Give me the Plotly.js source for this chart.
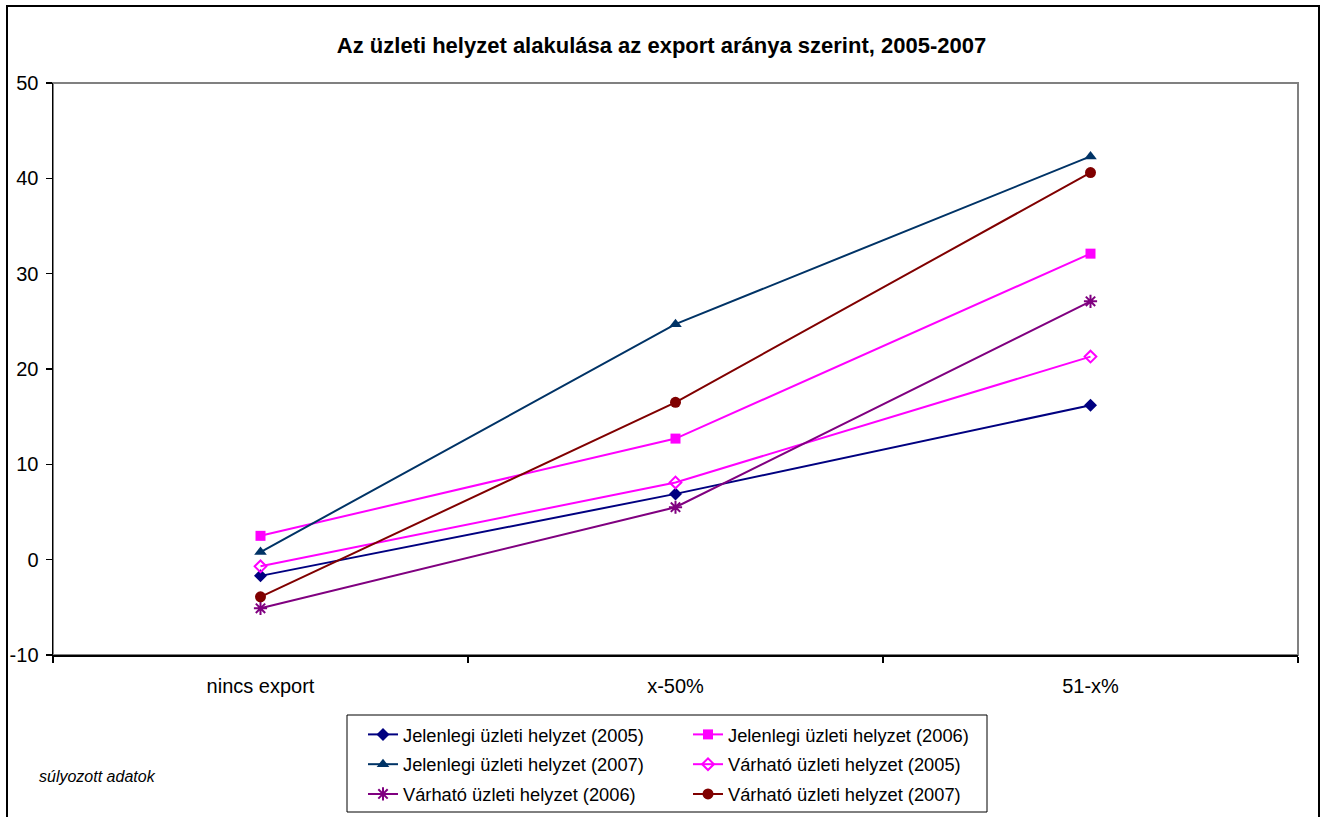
<!DOCTYPE html>
<html>
<head>
<meta charset="utf-8">
<script src="https://cdn.plot.ly/plotly-3.0.1.min.js"></script>
<style>html,body{margin:0;padding:0;background:#fff;}#chart{width:1323px;height:817px;}</style>
</head>
<body>
<div id="chart"></div>
<script>
const categories = ["nincs export", "x-50%", "51-x%"];
const seriesNames = [
  "Jelenlegi üzleti helyzet (2005)",
  "Jelenlegi üzleti helyzet (2006)",
  "Jelenlegi üzleti helyzet (2007)",
  "Várható üzleti helyzet (2005)",
  "Várható üzleti helyzet (2006)",
  "Várható üzleti helyzet (2007)"
];
const jelenlegi2005 = [-1.7, 6.9, 16.2];
const jelenlegi2006 = [2.5, 12.7, 32.1];
const jelenlegi2007 = [0.8, 24.7, 42.3];
const varhato2005 = [-0.7, 8.1, 21.3];
const varhato2006 = [-5.1, 5.5, 27.1];
const varhato2007 = [-3.9, 16.5, 40.6];
const yTicks = [-10, 0, 10, 20, 30, 40, 50];

const values = [jelenlegi2005, jelenlegi2006, jelenlegi2007, varhato2005, varhato2006, varhato2007];
const colors = ["#000080", "#FF00FF", "#003366", "#FF00FF", "#800080", "#800000"];
const symbols = ["diamond", "square", "triangle-up", "diamond-open", "asterisk-open", "circle"];
const sizes = [10, 10, 11, 9, 11, 11];
const legendIds = ["legend", "legend2", "legend", "legend2", "legend", "legend2"];

const traces = values.map((v, i) => ({
  type: "scatter",
  mode: "lines+markers",
  x: categories,
  y: v,
  name: seriesNames[i],
  legend: legendIds[i],
  legendgroup: "g" + i,
  line: {color: colors[i], width: 2},
  marker: {symbol: symbols[i], size: sizes[i], color: colors[i],
           line: {color: colors[i], width: symbols[i].indexOf("open") >= 0 ? 2 : 0}},
  cliponaxis: false
}));

const fam = "Liberation Sans, Arial, sans-serif";
const font = {family: fam, size: 20, color: "#000"};
const legFont = {family: fam, size: 18.3, color: "#000"};
const H = 817;

const layout = {
  width: 1323, height: 817,
  margin: {l: 53, r: 25, t: 83, b: 162, autoexpand: false},
  paper_bgcolor: "#fff", plot_bgcolor: "#fff",
  font: font,
  showlegend: true,
  title: {text: "<b>Az üzleti helyzet alakulása az export aránya szerint, 2005-2007</b>",
          font: {family: fam, size: 22, color: "#000"},
          xref: "container", x: 0.5, xanchor: "center", yref: "container", y: 1 - 45/H, yanchor: "middle"},
  xaxis: {type: "category", range: [-0.5, 2.5], showgrid: false, zeroline: false, automargin: false,
          showline: true, linecolor: "#000", linewidth: 1.5,
          ticks: "outside", tickson: "boundaries", ticklen: 6, tickcolor: "#000", tickwidth: 1.5,
          tickfont: font, ticklabelstandoff: 12},
  yaxis: {range: [-10, 50], tickvals: yTicks, ticktext: yTicks.map(String), showgrid: false, zeroline: false,
          automargin: false,
          showline: true, linecolor: "#000", linewidth: 1.5,
          ticks: "outside", ticklen: 6, tickcolor: "#000", tickwidth: 1.5, tickfont: font, ticklabelstandoff: 3},
  legend: {xref: "container", x: 363 / 1323, xanchor: "left", yref: "container", y: 1 - 716 / H, yanchor: "top",
           bgcolor: "rgba(0,0,0,0)", borderwidth: 0, font: legFont,
           tracegroupgap: 3, itemwidth: 30, orientation: "v"},
  legend2: {xref: "container", x: 688 / 1323, xanchor: "left", yref: "container", y: 1 - 716 / H, yanchor: "top",
           bgcolor: "rgba(0,0,0,0)", borderwidth: 0, font: legFont,
           tracegroupgap: 3, itemwidth: 30, orientation: "v"},
  shapes: [
    {type: "rect", xref: "paper", yref: "paper", x0: 0, x1: 1, y0: 0, y1: 1,
     line: {color: "#808080", width: 2}, layer: "below"},
    {type: "rect", xref: "paper", yref: "paper", x0: (7 - 53) / 1245, x1: (1319 - 53) / 1245,
     y0: (655 - 840) / 572, y1: (655 - 6) / 572, line: {color: "#000", width: 2}, layer: "below"},
    {type: "rect", xref: "paper", yref: "paper", x0: (347 - 53) / 1245, x1: (987 - 53) / 1245,
     y0: (655 - 812) / 572, y1: (655 - 715) / 572, line: {color: "#000", width: 1}, layer: "below"}
  ],
  annotations: [
    {text: "<i>súlyozott adatok</i>", xref: "paper", yref: "paper", x: (37 - 53) / 1245, xanchor: "left",
     y: (655 - 776) / 572, yanchor: "middle", showarrow: false,
     font: {family: fam, size: 16, color: "#000"}}
  ]
};

Plotly.newPlot("chart", traces, layout, {displayModeBar: false, staticPlot: true});
</script>
</body>
</html>
